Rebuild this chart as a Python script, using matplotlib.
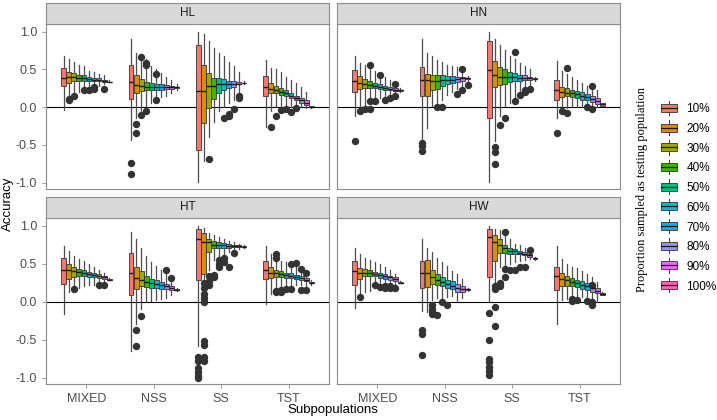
import matplotlib
matplotlib.use("Agg")
import matplotlib.pyplot as plt
from matplotlib.patches import Rectangle
from matplotlib.lines import Line2D
from matplotlib.legend_handler import HandlerBase

groups = ["MIXED", "NSS", "SS", "TST"]
props = ["10%", "20%", "30%", "40%", "50%", "60%", "70%", "80%", "90%", "100%"]
colors = ["#F8766D", "#D89000", "#A3A500", "#39B600", "#00BF7D",
          "#00BFC4", "#00B0F6", "#9590FF", "#E76BF3", "#FF62BC"]
panels = ["HL", "HN", "HT", "HW"]

# each stat: one row per subpopulation (MIXED, NSS, SS, TST), 10 proportions
HL_med = [[0.39, 0.40, 0.40, 0.39, 0.38, 0.37, 0.36, 0.36, 0.35, 0.33],
          [0.33, 0.29, 0.28, 0.27, 0.27, 0.27, 0.27, 0.26, 0.26, 0.26],
          [0.21, 0.21, 0.28, 0.28, 0.30, 0.30, 0.30, 0.31, 0.31, 0.32],
          [0.27, 0.24, 0.22, 0.20, 0.18, 0.15, 0.12, 0.09, 0.06, 0.00]]
HL_q1 = [[0.28, 0.32, 0.34, 0.34, 0.34, 0.34, 0.34, 0.34, 0.33, 0.33],
         [0.11, 0.19, 0.21, 0.22, 0.22, 0.23, 0.23, 0.24, 0.24, 0.25],
         [-0.57, -0.21, -0.01, 0.11, 0.18, 0.22, 0.25, 0.27, 0.30, 0.32],
         [0.14, 0.18, 0.18, 0.16, 0.14, 0.12, 0.10, 0.06, 0.03, 0.00]]
HL_q3 = [[0.52, 0.47, 0.45, 0.43, 0.42, 0.40, 0.39, 0.38, 0.36, 0.33],
         [0.56, 0.42, 0.37, 0.33, 0.32, 0.31, 0.30, 0.29, 0.28, 0.27],
         [0.82, 0.56, 0.45, 0.39, 0.38, 0.37, 0.35, 0.34, 0.33, 0.32],
         [0.41, 0.32, 0.28, 0.25, 0.22, 0.18, 0.15, 0.12, 0.09, 0.01]]
HL_lo = [[-0.04, 0.15, 0.16, 0.20, 0.22, 0.24, 0.25, 0.28, 0.30, 0.33],
         [-0.44, -0.15, -0.05, 0.00, 0.05, 0.08, 0.13, 0.15, 0.18, 0.22],
         [-0.99, -0.72, -0.40, -0.20, -0.05, 0.00, 0.05, 0.10, 0.18, 0.30],
         [-0.26, -0.05, 0.00, 0.00, 0.00, 0.00, 0.00, 0.00, -0.01, -0.01]]
HL_hi = [[0.68, 0.64, 0.60, 0.56, 0.54, 0.48, 0.46, 0.44, 0.42, 0.36],
         [0.90, 0.72, 0.70, 0.63, 0.55, 0.50, 0.45, 0.40, 0.36, 0.30],
         [1.00, 0.97, 0.88, 0.78, 0.72, 0.68, 0.60, 0.55, 0.46, 0.35],
         [0.62, 0.52, 0.50, 0.46, 0.40, 0.36, 0.32, 0.26, 0.20, 0.02]]
HL_out = [(0, 1, 0.09), (0, 1, 0.11), (0, 2, 0.14), (0, 4, 0.22), (0, 5, 0.23),
          (0, 6, 0.24), (0, 6, 0.27), (0, 8, 0.24),
          (1, 0, -0.74), (1, 0, -0.89), (1, 1, -0.23), (1, 1, -0.35), (1, 2, 0.66),
          (1, 2, -0.11), (1, 3, 0.56), (1, 3, 0.58), (1, 3, -0.05), (1, 5, 0.44), (1, 5, 0.10),
          (2, 2, -0.69), (2, 5, -0.14), (2, 6, -0.09), (2, 6, -0.12), (2, 7, -0.02),
          (2, 8, 0.12), (2, 8, 0.15),
          (3, 1, -0.27), (3, 2, -0.12), (3, 3, -0.04), (3, 4, -0.02), (3, 5, -0.07), (3, 6, -0.01)]

HN_med = [[0.34, 0.32, 0.30, 0.29, 0.28, 0.27, 0.25, 0.24, 0.23, 0.22],
          [0.36, 0.36, 0.35, 0.35, 0.36, 0.36, 0.36, 0.37, 0.38, 0.38],
          [0.49, 0.42, 0.40, 0.40, 0.40, 0.40, 0.39, 0.39, 0.38, 0.37],
          [0.22, 0.20, 0.19, 0.18, 0.17, 0.15, 0.13, 0.11, 0.08, 0.04]]
HN_q1 = [[0.20, 0.24, 0.25, 0.25, 0.25, 0.24, 0.23, 0.22, 0.21, 0.21],
         [0.15, 0.14, 0.22, 0.24, 0.28, 0.30, 0.32, 0.33, 0.35, 0.37],
         [-0.15, 0.27, 0.29, 0.31, 0.33, 0.34, 0.35, 0.36, 0.36, 0.37],
         [0.09, 0.13, 0.14, 0.13, 0.12, 0.10, 0.09, 0.07, 0.04, 0.02]]
HN_q3 = [[0.49, 0.41, 0.37, 0.34, 0.32, 0.30, 0.28, 0.26, 0.25, 0.23],
         [0.53, 0.44, 0.43, 0.42, 0.42, 0.41, 0.41, 0.40, 0.40, 0.39],
         [0.87, 0.61, 0.53, 0.50, 0.47, 0.45, 0.43, 0.42, 0.40, 0.38],
         [0.36, 0.27, 0.25, 0.23, 0.21, 0.20, 0.17, 0.15, 0.12, 0.05]]
HN_lo = [[-0.12, 0.00, 0.02, 0.05, 0.08, 0.12, 0.14, 0.15, 0.17, 0.20],
         [-0.44, -0.28, 0.02, 0.04, 0.10, 0.16, 0.20, 0.24, 0.28, 0.35],
         [-0.99, -0.45, -0.12, 0.02, 0.05, 0.13, 0.18, 0.20, 0.24, 0.34],
         [-0.14, -0.02, -0.01, 0.00, 0.00, 0.00, 0.00, 0.01, 0.00, 0.01]]
HN_hi = [[0.67, 0.58, 0.56, 0.50, 0.48, 0.45, 0.40, 0.36, 0.33, 0.25],
         [0.90, 0.72, 0.67, 0.62, 0.60, 0.56, 0.54, 0.53, 0.50, 0.41],
         [1.00, 0.90, 0.82, 0.75, 0.68, 0.63, 0.58, 0.54, 0.50, 0.40],
         [0.61, 0.48, 0.44, 0.40, 0.36, 0.32, 0.28, 0.26, 0.22, 0.06]]
HN_out = [(0, 0, -0.45), (0, 1, -0.05), (0, 2, -0.02), (0, 3, 0.56), (0, 3, -0.03),
          (0, 4, 0.08), (0, 3, 0.08), (0, 5, 0.42), (0, 6, 0.10), (0, 7, 0.12),
          (0, 8, 0.15), (0, 8, 0.30),
          (1, 0, -0.47), (1, 0, -0.52), (1, 0, -0.58), (1, 3, 0.00), (1, 4, 0.00),
          (1, 7, 0.17), (1, 8, 0.50), (1, 8, 0.23), (1, 9, 0.29),
          (2, 1, -0.53), (2, 1, -0.59), (2, 1, -0.76), (2, 2, -0.24), (2, 3, -0.15),
          (2, 5, 0.73), (2, 5, 0.08), (2, 6, 0.16), (2, 7, 0.20), (2, 7, 0.22), (2, 8, 0.24),
          (3, 0, -0.34), (3, 1, -0.05), (3, 2, 0.52), (3, 2, -0.08), (3, 6, 0.00),
          (3, 7, 0.28), (3, 7, -0.03)]

HT_med = [[0.42, 0.42, 0.40, 0.39, 0.37, 0.36, 0.35, 0.34, 0.32, 0.29],
          [0.37, 0.31, 0.29, 0.26, 0.24, 0.23, 0.22, 0.20, 0.18, 0.15],
          [0.82, 0.78, 0.78, 0.75, 0.74, 0.74, 0.73, 0.73, 0.73, 0.72],
          [0.42, 0.38, 0.37, 0.36, 0.35, 0.34, 0.32, 0.31, 0.29, 0.25]]
HT_q1 = [[0.23, 0.30, 0.32, 0.33, 0.33, 0.32, 0.32, 0.31, 0.30, 0.29],
         [0.09, 0.17, 0.20, 0.19, 0.18, 0.18, 0.17, 0.16, 0.15, 0.15],
         [0.29, 0.36, 0.65, 0.70, 0.70, 0.71, 0.71, 0.72, 0.72, 0.72],
         [0.30, 0.31, 0.32, 0.32, 0.31, 0.31, 0.30, 0.29, 0.27, 0.24]]
HT_q3 = [[0.58, 0.50, 0.46, 0.43, 0.41, 0.39, 0.37, 0.36, 0.34, 0.30],
         [0.64, 0.46, 0.40, 0.33, 0.30, 0.28, 0.26, 0.23, 0.21, 0.16],
         [0.96, 0.90, 0.83, 0.80, 0.78, 0.77, 0.76, 0.75, 0.74, 0.73],
         [0.54, 0.46, 0.42, 0.40, 0.38, 0.37, 0.35, 0.33, 0.31, 0.26]]
HT_lo = [[-0.16, 0.13, 0.15, 0.18, 0.20, 0.22, 0.22, 0.24, 0.25, 0.28],
         [-0.65, -0.30, -0.10, 0.00, 0.01, 0.02, 0.04, 0.05, 0.08, 0.14],
         [-0.58, 0.02, 0.42, 0.55, 0.60, 0.62, 0.65, 0.67, 0.69, 0.71],
         [-0.03, 0.10, 0.12, 0.15, 0.18, 0.20, 0.22, 0.22, 0.20, 0.22]]
HT_hi = [[0.73, 0.66, 0.60, 0.56, 0.54, 0.50, 0.46, 0.42, 0.38, 0.31],
         [0.92, 0.82, 0.70, 0.60, 0.52, 0.47, 0.42, 0.36, 0.30, 0.18],
         [1.00, 0.97, 0.90, 0.88, 0.85, 0.83, 0.80, 0.78, 0.76, 0.74],
         [0.73, 0.62, 0.58, 0.54, 0.52, 0.50, 0.48, 0.45, 0.40, 0.28]]
HT_out = [(0, 2, 0.17), (0, 7, 0.22), (0, 8, 0.22),
          (1, 1, -0.38), (1, 1, -0.59), (1, 2, -0.19), (1, 7, 0.42), (1, 8, 0.31),
          (2, 0, -0.73), (2, 0, -0.78), (2, 0, -0.87), (2, 0, -0.93), (2, 0, -0.98), (2, 0, -1.00),
          (2, 1, 0.25), (2, 1, 0.18), (2, 1, 0.10), (2, 1, 0.05), (2, 1, 0.00),
          (2, 1, -0.52), (2, 1, -0.57), (2, 1, -0.73), (2, 1, -0.78),
          (2, 2, 0.27), (2, 2, 0.22), (2, 2, 0.33), (2, 3, 0.35), (2, 3, 0.32),
          (2, 4, 0.50), (2, 4, 0.46), (2, 4, 0.55), (2, 5, 0.58), (2, 5, 0.52),
          (2, 6, 0.45), (2, 7, 0.64),
          (3, 2, 0.62), (3, 2, 0.58), (3, 2, 0.14), (3, 2, 0.12), (3, 3, 0.12), (3, 3, 0.15),
          (3, 4, 0.16), (3, 5, 0.49), (3, 5, 0.17), (3, 6, 0.51), (3, 7, 0.43), (3, 7, 0.15),
          (3, 8, 0.38), (3, 8, 0.15)]

HW_med = [[0.40, 0.37, 0.38, 0.37, 0.36, 0.35, 0.34, 0.32, 0.30, 0.25],
          [0.38, 0.37, 0.32, 0.29, 0.26, 0.23, 0.21, 0.18, 0.16, 0.16],
          [0.85, 0.78, 0.74, 0.70, 0.67, 0.66, 0.64, 0.63, 0.61, 0.57],
          [0.33, 0.30, 0.28, 0.26, 0.24, 0.22, 0.20, 0.18, 0.14, 0.10]]
HW_q1 = [[0.22, 0.30, 0.33, 0.33, 0.33, 0.31, 0.30, 0.28, 0.27, 0.25],
         [0.18, 0.19, 0.23, 0.22, 0.20, 0.18, 0.16, 0.13, 0.13, 0.15],
         [0.32, 0.53, 0.64, 0.64, 0.63, 0.63, 0.62, 0.61, 0.59, 0.56],
         [0.15, 0.20, 0.21, 0.20, 0.19, 0.17, 0.15, 0.13, 0.11, 0.09]]
HW_q3 = [[0.53, 0.44, 0.43, 0.41, 0.39, 0.38, 0.36, 0.34, 0.32, 0.26],
         [0.54, 0.55, 0.42, 0.36, 0.32, 0.29, 0.27, 0.23, 0.20, 0.17],
         [0.96, 0.88, 0.82, 0.74, 0.70, 0.69, 0.67, 0.65, 0.63, 0.58],
         [0.46, 0.38, 0.34, 0.31, 0.29, 0.27, 0.24, 0.22, 0.18, 0.11]]
HW_lo = [[-0.08, 0.10, 0.12, 0.14, 0.18, 0.20, 0.20, 0.22, 0.22, 0.24],
         [-0.13, -0.14, 0.02, 0.05, 0.05, 0.06, 0.07, 0.00, 0.05, 0.14],
         [0.00, 0.25, 0.45, 0.48, 0.50, 0.52, 0.54, 0.55, 0.56, 0.55],
         [-0.30, 0.02, 0.03, 0.04, 0.05, 0.06, 0.05, 0.03, 0.00, 0.08]]
HW_hi = [[0.70, 0.62, 0.58, 0.55, 0.52, 0.50, 0.46, 0.42, 0.36, 0.27],
         [0.83, 0.70, 0.65, 0.57, 0.52, 0.47, 0.40, 0.36, 0.30, 0.18],
         [0.99, 0.96, 0.94, 0.86, 0.82, 0.76, 0.74, 0.70, 0.64, 0.59],
         [0.73, 0.56, 0.50, 0.46, 0.44, 0.40, 0.36, 0.32, 0.26, 0.12]]
HW_out = [(0, 1, 0.06), (0, 4, 0.22), (0, 5, 0.19), (0, 6, 0.18), (0, 6, 0.20),
          (0, 7, 0.18), (0, 7, 0.21), (0, 8, 0.18),
          (1, 0, -0.38), (1, 0, -0.43), (1, 0, -0.70), (1, 2, -0.05), (1, 2, -0.10),
          (1, 2, -0.13), (1, 2, -0.17), (1, 3, -0.18), (1, 4, 0.00), (1, 5, -0.05),
          (2, 0, -0.15), (2, 0, -0.50), (2, 0, -0.75), (2, 0, -0.80), (2, 0, -0.86),
          (2, 0, -0.92), (2, 0, -0.97), (2, 1, 0.21), (2, 1, 0.17), (2, 1, -0.07),
          (2, 1, -0.32), (2, 2, 0.25), (2, 2, 0.21), (2, 3, 0.92), (2, 3, 0.43),
          (2, 3, 0.32), (2, 4, 0.41), (2, 5, 0.41), (2, 6, 0.45), (2, 7, 0.45), (2, 8, 0.68),
          (3, 3, 0.03), (3, 3, 0.01), (3, 4, 0.02), (3, 6, 0.01), (3, 7, 0.22),
          (3, 7, 0.00), (3, 7, -0.05)]

stats = {
    "HL": (HL_med, HL_q1, HL_q3, HL_lo, HL_hi, HL_out),
    "HN": (HN_med, HN_q1, HN_q3, HN_lo, HN_hi, HN_out),
    "HT": (HT_med, HT_q1, HT_q3, HT_lo, HT_hi, HT_out),
    "HW": (HW_med, HW_q1, HW_q3, HW_lo, HW_hi, HW_out),
}

W, H = 717, 420
fig = plt.figure(figsize=(W / 100, H / 100), dpi=100)
plt.rcParams["font.family"] = ["Liberation Sans", "DejaVu Sans"]

grey_txt = "#4D4D4D"
border = "#8C8C8C"
dark = "#333333"

# panel rectangles in pixels: left, top, right, bottom
px = {"HL": (46, 24, 329, 189), "HN": (337, 24, 620, 189),
      "HT": (46, 218, 329, 384), "HW": (337, 218, 620, 384)}
strip_h = 21
slot = 0.075

for name in panels:
    l, t, r, b = px[name]
    ax = fig.add_axes([l / W, 1 - b / H, (r - l) / W, (b - t) / H])
    med, q1, q3, lo, hi, out = stats[name]
    for gi in range(len(groups)):
        for pi in range(len(props)):
            fl = [v for (g, p, v) in out if g == gi and p == pi]
            st = [dict(med=med[gi][pi], q1=q1[gi][pi], q3=q3[gi][pi],
                       whislo=lo[gi][pi], whishi=hi[gi][pi], fliers=fl)]
            pos = gi + 1 + (pi - 4.5) * slot
            ax.bxp(st, positions=[pos], widths=slot * 0.95, patch_artist=True,
                   showcaps=False, manage_ticks=False,
                   boxprops=dict(facecolor=colors[pi], edgecolor=dark, linewidth=0.6),
                   whiskerprops=dict(color="#4D4D4D", linewidth=0.9),
                   medianprops=dict(color="#1A1A1A", linewidth=1.0),
                   flierprops=dict(marker="o", markerfacecolor=dark, markeredgecolor=dark,
                                   markersize=4.3, linestyle="none"))
    ax.axhline(0, color="black", linewidth=0.8, zorder=1)
    ax.set_xlim(0.4, 4.6)
    ax.set_ylim(-1.085, 1.10)
    ax.set_yticks([-1.0, -0.5, 0.0, 0.5, 1.0])
    ax.set_xticks(range(1, len(groups) + 1))
    ax.tick_params(colors=border, labelcolor=grey_txt, labelsize=9, length=3, width=0.6)
    if name in ("HL", "HT"):
        ax.set_yticklabels(["-1.0", "-0.5", "0.0", "0.5", "1.0"])
    else:
        ax.tick_params(axis="y", left=False, labelleft=False)
    if name in ("HT", "HW"):
        ax.set_xticklabels(groups)
    else:
        ax.tick_params(axis="x", bottom=False, labelbottom=False)
    for sp in ax.spines.values():
        sp.set_color(border)
        sp.set_linewidth(0.8)

    sx = fig.add_axes([l / W, 1 - t / H, (r - l) / W, strip_h / H])
    sx.set_facecolor("#D9D9D9")
    sx.set_xticks([])
    sx.set_yticks([])
    for sp in sx.spines.values():
        sp.set_color(border)
        sp.set_linewidth(0.8)
    sx.text(0.5, 0.5, name, ha="center", va="center", fontsize=8.5, color="#1A1A1A",
            transform=sx.transAxes)

fig.text(8 / W, 1 - 204 / H, "Accuracy", rotation=90, ha="center", va="center",
         fontsize=9.5, color="black")
fig.text(333 / W, 1 - 410 / H, "Subpopulations", ha="center", va="center",
         fontsize=9.5, color="black")


class BoxKey(HandlerBase):
    def create_artists(self, legend, orig, xd, yd, w, h, fontsize, trans):
        cx = xd + w / 2
        wl = Line2D([cx, cx], [yd - h * 0.35, yd + h * 1.35], color=dark, lw=0.7, transform=trans)
        rect = Rectangle((xd, yd + h * 0.05), w, h * 0.9, facecolor=orig.get_facecolor(),
                         edgecolor=dark, lw=0.6, transform=trans)
        ml = Line2D([xd, xd + w], [yd + h / 2] * 2, color="#1A1A1A", lw=0.9, transform=trans)
        return [wl, rect, ml]


handles = [Rectangle((0, 0), 1, 1, facecolor=c) for c in colors]
fig.legend(handles, props, handler_map={Rectangle: BoxKey()}, loc="center left",
           bbox_to_anchor=(661 / W, 1 - 198 / H), frameon=False, fontsize=8.5,
           handlelength=1.35, handleheight=0.75, handletextpad=0.8, labelspacing=0.65,
           borderpad=0, borderaxespad=0, labelcolor="black")
fig.text(642 / W, 1 - 189 / H, "Proportion sampled as testing population", rotation=90,
         ha="center", va="center", fontsize=9, family=["Liberation Serif", "DejaVu Serif"])

fig.savefig("out.png", dpi=100)
